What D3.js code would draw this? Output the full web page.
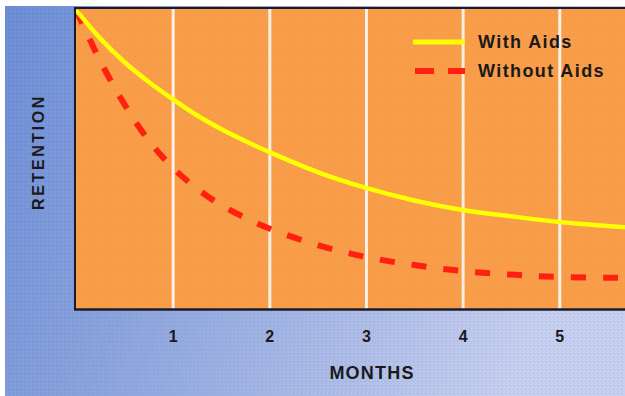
<!DOCTYPE html>
<html>
<head>
<meta charset="utf-8">
<script src="https://cdn.jsdelivr.net/npm/d3@7"></script>
<style>
  html, body { margin: 0; padding: 0; background: #ffffff; }
  svg { display: block; }
</style>
</head>
<body>
<script>
// ---- data ----
const months = [0, 0.25, 0.5, 0.75, 1, 1.25, 1.5, 1.75, 2, 2.5, 3, 3.5, 4, 4.5, 5, 5.68];
const withAids = [100, 90.5, 82.6, 76.0, 70.2, 64.8, 60.2, 56.2, 52.5, 45.8, 40.5, 36.3, 33.1, 31.0, 29.1, 27.3];
const withoutAids = [100, 83.0, 68.5, 56.5, 47.3, 40.3, 34.8, 30.5, 26.9, 21.4, 17.4, 14.7, 12.7, 11.5, 10.7, 10.4];
const tickMonths = [1, 2, 3, 4, 5];
const tickLabels = ["1", "2", "3", "4", "5"];
const seriesNames = ["With Aids", "Without Aids"];
const xTitle = "MONTHS";
const yTitle = "RETENTION";

const W = 625, H = 396;
const plot = { left: 75, right: 625, top: 8, bottom: 309 };

const svg = d3.select("body").append("svg").attr("width", W).attr("height", H);
const defs = svg.append("defs");

// background gradient
const bg = defs.append("linearGradient").attr("id", "bgGrad")
  .attr("x1", "0").attr("y1", "0").attr("x2", "1").attr("y2", "0.25");
bg.append("stop").attr("offset", "0").attr("stop-color", "#6a8bd4");
bg.append("stop").attr("offset", "0.45").attr("stop-color", "#93a9df");
bg.append("stop").attr("offset", "1").attr("stop-color", "#c8d0ef");

// halftone dot patterns
const pb = defs.append("pattern").attr("id", "blueDots").attr("patternUnits", "userSpaceOnUse")
  .attr("width", 4).attr("height", 4);
pb.append("rect").attr("x", 1).attr("y", 1).attr("width", 1).attr("height", 1).attr("fill", "#8a70c0").attr("opacity", 0.45);
pb.append("rect").attr("x", 3).attr("y", 3).attr("width", 1).attr("height", 1).attr("fill", "#70c0d8").attr("opacity", 0.35);

const po = defs.append("pattern").attr("id", "orangeDots").attr("patternUnits", "userSpaceOnUse")
  .attr("width", 5).attr("height", 5);
po.append("rect").attr("x", 2).attr("y", 2).attr("width", 1).attr("height", 1).attr("fill", "#c8c070").attr("opacity", 0.8);

svg.append("rect").attr("x", 5).attr("y", 6).attr("width", W - 5).attr("height", H - 6).attr("fill", "url(#bgGrad)");
svg.append("rect").attr("x", 5).attr("y", 6).attr("width", W - 5).attr("height", H - 6).attr("fill", "url(#blueDots)");

// scales
const x = d3.scaleLinear().domain([0, 5.68]).range([76, 625]);
const y = d3.scaleLinear().domain([0, 100]).range([309, 10]);

// plot area
svg.append("rect").attr("x", plot.left).attr("y", plot.top)
  .attr("width", plot.right - plot.left).attr("height", plot.bottom - plot.top)
  .attr("fill", "#f99b47");
svg.append("rect").attr("x", plot.left).attr("y", plot.top)
  .attr("width", plot.right - plot.left).attr("height", plot.bottom - plot.top)
  .attr("fill", "url(#orangeDots)");

// gridlines
const grid = svg.append("g").attr("transform", `translate(0,${plot.bottom})`)
  .call(d3.axisBottom(x).tickValues(tickMonths).tickSize(-(plot.bottom - plot.top)).tickFormat(""));
grid.select(".domain").remove();
grid.selectAll("line").attr("stroke", "#fdeee6").attr("stroke-width", 3);

// borders
svg.append("line").attr("x1", plot.left).attr("x2", plot.left).attr("y1", plot.top - 1).attr("y2", plot.bottom + 1)
  .attr("stroke", "#1c1c28").attr("stroke-width", 2);
svg.append("line").attr("x1", plot.left).attr("x2", plot.right).attr("y1", plot.top).attr("y2", plot.top)
  .attr("stroke", "#1c1c28").attr("stroke-width", 2);
svg.append("line").attr("x1", plot.left - 1).attr("x2", plot.right).attr("y1", plot.bottom + 0.5).attr("y2", plot.bottom + 0.5)
  .attr("stroke", "#1c1c28").attr("stroke-width", 2.5);

// clip
defs.append("clipPath").attr("id", "clip").append("rect")
  .attr("x", plot.left + 1).attr("y", plot.top + 1)
  .attr("width", plot.right - plot.left).attr("height", plot.bottom - plot.top - 2);

const line = d3.line().x(d => x(d[0])).y(d => y(d[1])).curve(d3.curveCatmullRom.alpha(0.5));
const g = svg.append("g").attr("clip-path", "url(#clip)");

g.append("path").datum(months.map((m, i) => [m, withoutAids[i]]))
  .attr("d", line).attr("fill", "none").attr("stroke", "#ff2010")
  .attr("stroke-width", 6).attr("stroke-dasharray", "15,17");
g.append("path").datum(months.map((m, i) => [m, withAids[i]]))
  .attr("d", line).attr("fill", "none").attr("stroke", "#ffff00")
  .attr("stroke-width", 4.5);

// axis labels
const ax = svg.append("g").attr("transform", `translate(0,${plot.bottom})`)
  .call(d3.axisBottom(x).tickValues(tickMonths).tickSize(0).tickPadding(22)
    .tickFormat((d, i) => tickLabels[i]));
ax.select(".domain").remove();
ax.selectAll("text").attr("font-family", "Liberation Sans, Arial, sans-serif")
  .attr("font-weight", "bold").attr("font-size", 16).attr("fill", "#1a1a1a");

svg.append("text").attr("x", 372).attr("y", 379).attr("text-anchor", "middle")
  .attr("font-family", "Liberation Sans, Arial, sans-serif").attr("font-weight", "bold")
  .attr("font-size", 18).attr("letter-spacing", 1.2).attr("fill", "#1a1a1a").text(xTitle);

svg.append("text").attr("transform", "translate(44,152) rotate(-90)").attr("text-anchor", "middle")
  .attr("font-family", "Liberation Sans, Arial, sans-serif").attr("font-weight", "bold")
  .attr("font-size", 16).attr("letter-spacing", 2.6).attr("fill", "#1a1a1a").text(yTitle);

// legend
const leg = svg.append("g");
leg.append("line").attr("x1", 413).attr("x2", 465).attr("y1", 42).attr("y2", 42)
  .attr("stroke", "#ffff00").attr("stroke-width", 5);
leg.append("line").attr("x1", 415).attr("x2", 465).attr("y1", 71).attr("y2", 71)
  .attr("stroke", "#ff2010").attr("stroke-width", 6).attr("stroke-dasharray", "19,14");
leg.append("text").attr("x", 478).attr("y", 48).text(seriesNames[0]);
leg.append("text").attr("x", 478).attr("y", 77).text(seriesNames[1]);
leg.selectAll("text").attr("font-family", "Liberation Sans, Arial, sans-serif")
  .attr("font-weight", "bold").attr("font-size", 18).attr("letter-spacing", 1.4).attr("fill", "#1a1a1a");
</script>
</body>
</html>
